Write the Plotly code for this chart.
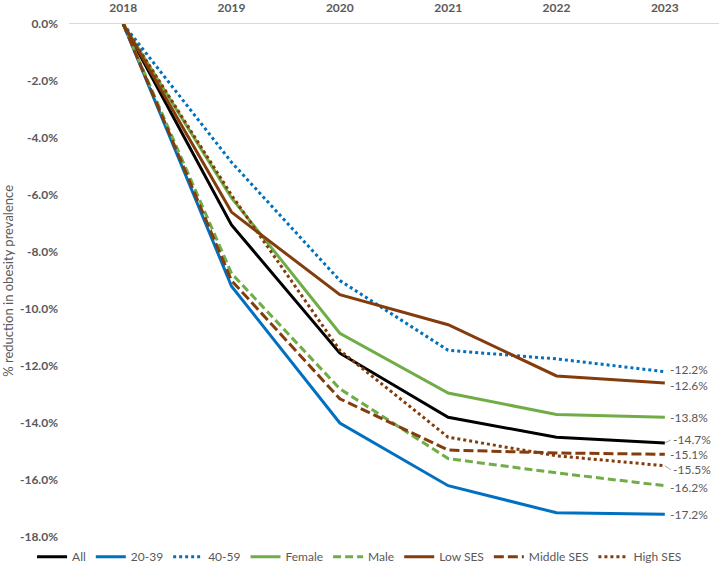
import plotly.graph_objects as go

years = ["2018", "2019", "2020", "2021", "2022", "2023"]

all_pop = [0.0, -7.05, -11.55, -13.8, -14.5, -14.7]
age_20_39 = [0.0, -9.2, -14.0, -16.2, -17.15, -17.2]
age_40_59 = [0.0, -4.85, -9.0, -11.45, -11.75, -12.2]
female = [0.0, -6.1, -10.85, -12.95, -13.7, -13.8]
male = [0.0, -8.75, -12.8, -15.25, -15.75, -16.2]
low_ses = [0.0, -6.6, -9.5, -10.55, -12.35, -12.6]
middle_ses = [0.0, -9.0, -13.15, -14.95, -15.05, -15.1]
high_ses = [0.0, -6.0, -11.45, -14.5, -15.15, -15.5]

series_names = ["All", "20-39", "40-59", "Female", "Male", "Low SES", "Middle SES", "High SES"]
series_values = [all_pop, age_20_39, age_40_59, female, male, low_ses, middle_ses, high_ses]

y_ticks = [0, -2, -4, -6, -8, -10, -12, -14, -16, -18]

BLUE = "#0070C0"
GREEN = "#70AD47"
BROWN = "#843C0C"
GREY = "#595959"

styles = [
    ("#000000", "solid"),
    (BLUE, "solid"),
    (BLUE, "dot"),
    (GREEN, "solid"),
    (GREEN, "8px,4px"),
    (BROWN, "solid"),
    (BROWN, "10px,4px"),
    (BROWN, "dot"),
]

# vertical nudge (px) of the end labels, and whether a leader line is drawn
label_shift = [3, 0, 2, 0, -2, -2, 0, -4]
label_leader = [True, False, False, False, False, False, False, True]

FONT = "Lato, 'Open Sans', sans-serif"


def pct(v):
    # plain hyphen, like the original (plotly would use a unicode minus)
    return f"{v:.1f}%"


fig = go.Figure()

for name, vals, (color, dash) in zip(series_names, series_values, styles):
    fig.add_trace(
        go.Scatter(
            x=years,
            y=vals,
            mode="lines",
            name=name,
            line={"color": color, "width": 3, "dash": dash},
        )
    )

last = len(years) - 1
for vals, shift, leader in zip(series_values, label_shift, label_leader):
    if leader:
        fig.add_annotation(
            x=last, y=vals[-1], text=pct(vals[-1]),
            showarrow=True, arrowhead=0, arrowwidth=1, arrowcolor="#A6A6A6",
            ax=6, ay=-shift, xanchor="left",
            font={"family": FONT, "size": 12, "color": GREY},
        )
    else:
        fig.add_annotation(
            x=last, y=vals[-1], text=pct(vals[-1]),
            showarrow=False, xanchor="left", xshift=3, yshift=shift,
            font={"family": FONT, "size": 12, "color": GREY},
        )

fig.add_annotation(
    xref="paper", yref="paper", x=-0.095, y=0.5, xanchor="center", yanchor="middle",
    text="% reduction in obesity prevalence", textangle=-90,
    showarrow=False, font={"family": FONT, "size": 13, "color": GREY},
)

fig.update_layout(
    width=719,
    height=571,
    margin={"l": 69, "r": 0, "t": 24, "b": 34, "autoexpand": False},
    paper_bgcolor="white",
    plot_bgcolor="white",
    font={"family": FONT, "color": GREY},
    showlegend=True,
    legend={
        "orientation": "h",
        "x": 0.447,
        "xanchor": "center",
        "y": -0.01,
        "yanchor": "top",
        "bgcolor": "rgba(0,0,0,0)",
        "font": {"size": 12, "color": GREY},
        "itemwidth": 30,
    },
    xaxis={
        "type": "category",
        "side": "top",
        "range": [-0.5, 5.5],
        "automargin": False,
        "showline": True,
        "linecolor": "#D9D9D9",
        "linewidth": 1,
        "showgrid": False,
        "ticks": "",
        "ticklabelstandoff": 6,
        "tickfont": {"family": FONT, "size": 12, "color": GREY, "weight": "bold"},
    },
    yaxis={
        "range": [-18, 0],
        "tickvals": y_ticks,
        "ticktext": [pct(v) for v in y_ticks],
        "automargin": False,
        "showgrid": False,
        "zeroline": False,
        "showline": False,
        "ticks": "",
        "ticklabelstandoff": 10,
        "tickfont": {"family": FONT, "size": 12, "color": GREY, "weight": "bold"},
    },
)

# drop the browser's default 8px page margin so the figure sits at the corner
fig.write_html(
    "out.html",
    config={"displayModeBar": False},
    post_script="document.body.style.margin = '0';",
)
